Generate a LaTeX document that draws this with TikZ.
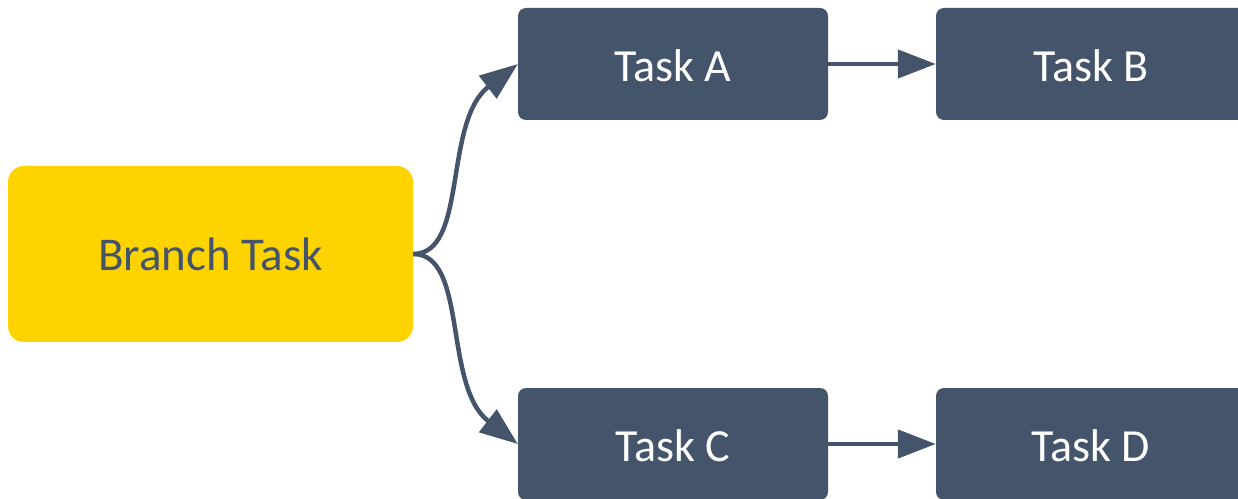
\documentclass[tikz,border=0pt]{standalone}
\usepackage{fontspec}
\setmainfont{Carlito}
\usetikzlibrary{arrows.meta}
\definecolor{slate}{HTML}{44546A}
\definecolor{gold}{HTML}{FFD300}
\begin{document}
\begin{tikzpicture}[x=1pt,y=1pt,
    task/.style={fill=slate,text=white,rounded corners=8pt,minimum width=310pt,minimum height=112pt,inner sep=0pt,text height=35pt,text depth=0pt,font=\fontsize{46}{55}\selectfont},
    branch/.style={fill=gold,text=slate,rounded corners=16pt,minimum width=405pt,minimum height=176pt,inner sep=0pt,text height=34pt,text depth=0pt,font=\fontsize{47}{56}\selectfont},
    link/.style={draw=slate,line width=4.5pt,-{Triangle[length=38pt,width=28pt]}}]
      \useasboundingbox (0,0) rectangle (1238,498);
      \clip (0,0) rectangle (1238,498);
      \draw
        (210.5,244) node[branch] (br){Branch Task}
        (673,434) node[task] (a){Task A}
        (1091,434) node[task] (b){Task B}
        (673,54) node[task] (c){Task C}
        (1091,54) node[task] (d){Task D};
      \begin{scope}[link]
        \draw (br.east) .. controls +(55,0) and +(-75,-58) .. (a.west);
        \draw (br.east) .. controls +(55,0) and +(-75,58) .. (c.west);
        \draw (a) to (b);
        \draw (c) to (d);
      \end{scope}
    \end{tikzpicture}
\end{document}
